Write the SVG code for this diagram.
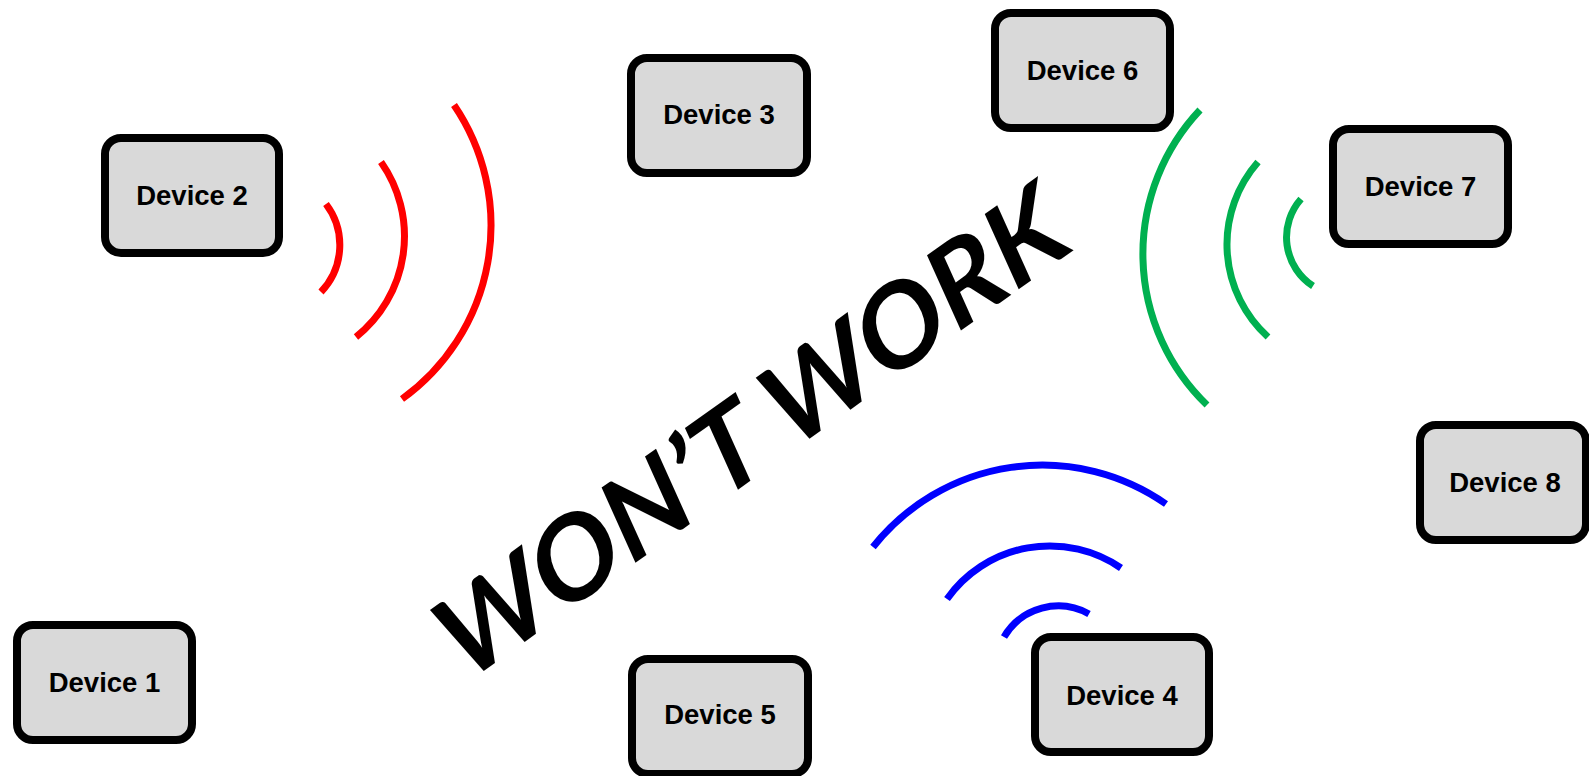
<svg xmlns="http://www.w3.org/2000/svg" width="1589" height="776" viewBox="0 0 1589 776">
<style>
.box{fill:#d9d9d9;stroke:#000;stroke-width:8}
.lbl{font-family:"Liberation Sans",Arial,sans-serif;font-weight:bold;font-size:27.5px;fill:#000;text-anchor:middle}
.wave{fill:none;stroke-width:7}
.red{stroke:#ff0000}
.green{stroke:#00b050}
.blue{stroke:#0000ff}
</style>
<rect width="1589" height="776" fill="#fff"/>
<g id="connectors">
<g id="waves-red">
<path class="wave red" d="M326 204 A68 68 0 0 1 321 292"/>
<path class="wave red" d="M381 162 A129 129 0 0 1 356 337"/>
<path class="wave red" d="M454 105 A214 214 0 0 1 402 399"/>
</g>
<g id="waves-green">
<path class="wave green" d="M1301 199 A58 58 0 0 0 1313 286"/>
<path class="wave green" d="M1258 162 A125 125 0 0 0 1268 337"/>
<path class="wave green" d="M1200 110 A210 210 0 0 0 1207 405"/>
</g>
<g id="waves-blue">
<path class="wave blue" d="M1004 637 A63 63 0 0 1 1089 614"/>
<path class="wave blue" d="M947 599 A126 126 0 0 1 1121 568"/>
<path class="wave blue" d="M873 547 A216 216 0 0 1 1166 504"/>
</g>
</g>
<g id="device1"><rect class="box" x="17" y="625" width="175" height="115" rx="16"/><text class="lbl" x="104.5" y="692">Device 1</text></g>
<g id="device2"><rect class="box" x="105" y="138" width="174" height="115" rx="16"/><text class="lbl" x="192" y="205">Device 2</text></g>
<g id="device3"><rect class="box" x="631" y="58" width="176" height="115" rx="16"/><text class="lbl" x="719" y="124">Device 3</text></g>
<g id="device4"><rect class="box" x="1035" y="637" width="174" height="115" rx="16"/><text class="lbl" x="1122" y="705">Device 4</text></g>
<g id="device5"><rect class="box" x="632" y="659" width="176" height="115" rx="16"/><text class="lbl" x="720" y="724">Device 5</text></g>
<g id="device6"><rect class="box" x="995" y="13" width="175" height="115" rx="16"/><text class="lbl" x="1082.5" y="80">Device 6</text></g>
<g id="device7"><rect class="box" x="1333" y="129" width="175" height="115" rx="16"/><text class="lbl" x="1420.5" y="196">Device 7</text></g>
<g id="device8"><rect class="box" x="1420" y="425" width="166" height="115" rx="16"/><text class="lbl" x="1505" y="492">Device 8</text></g>
<g id="wontwork">
<text transform="translate(467 683) rotate(-35.5) skewX(-4)" x="0" y="0" font-family="Lato,'Open Sans',sans-serif" font-weight="bold" font-style="italic" font-size="112" textLength="749" lengthAdjust="spacingAndGlyphs" fill="#000">WON’T WORK</text>
</g>
</svg>
